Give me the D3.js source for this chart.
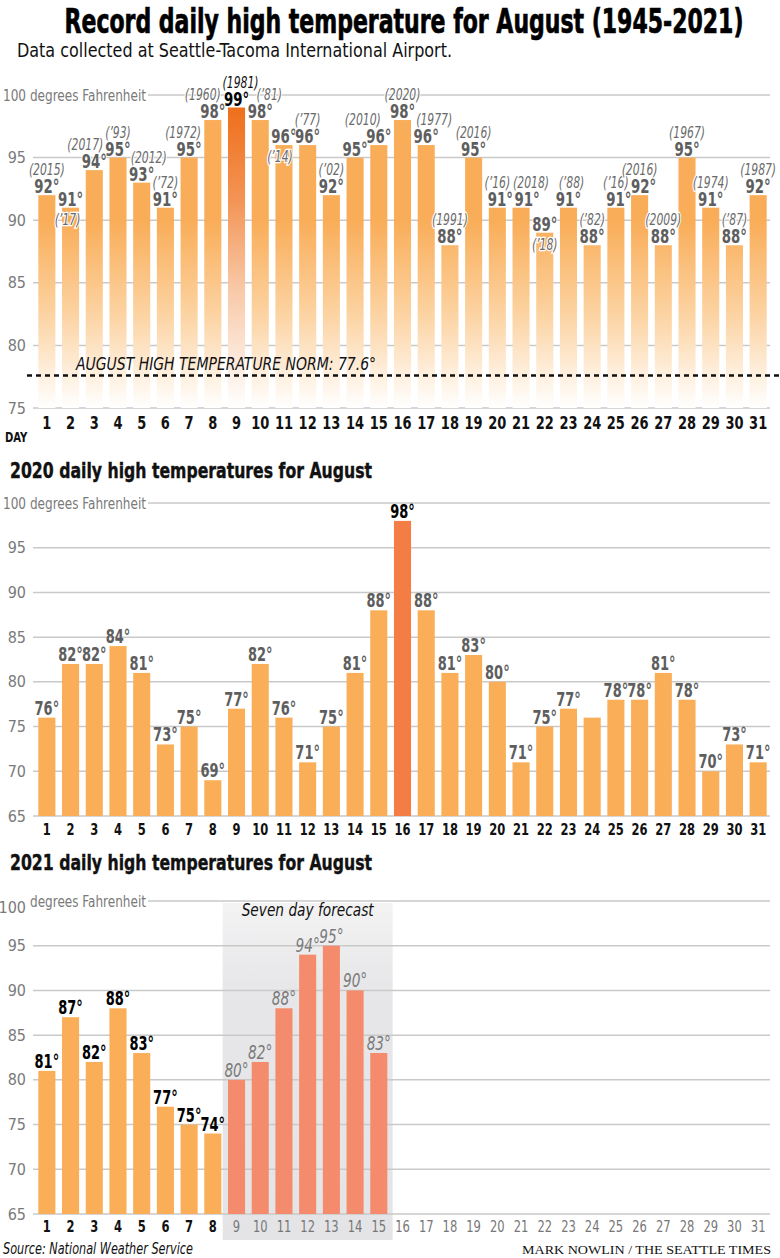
<!DOCTYPE html>
<html><head><meta charset="utf-8">
<script src="https://cdn.jsdelivr.net/npm/d3@7"></script>
<style>
html,body{margin:0;padding:0;background:#fff;}
svg{display:block;}
</style></head>
<body>
<svg id="c" width="780" height="1258"></svg>
<script>
// ---------- DATA ----------
const days = [1,2,3,4,5,6,7,8,9,10,11,12,13,14,15,16,17,18,19,20,21,22,23,24,25,26,27,28,29,30,31];
const recordHighs = [92,91,94,95,93,91,95,98,99,98,96,96,92,95,96,98,96,88,95,91,91,89,91,88,91,92,88,95,91,88,92];
const recordYears = ["(2015)","(’17)","(2017)","(’93)","(2012)","(’72)","(1972)","(1960)","(1981)","(’81)","(’14)","(’77)","(’02)","","(2010)","(2020)","(1977)","(1991)","(2016)","(’16)","(2018)","(’18)","(’88)","(’82)","(’16)","(2016)","(2009)","(1967)","(1974)","(’87)","(1987)"];
const yearBelowDays = [2, 11, 22];
const recordHighlightDay = 9;
const normTemp = 77.6;
const recordTicks = [75,80,85,90,95,100];

const highs2020 = [76,82,82,84,81,73,75,69,77,82,76,71,75,81,88,98,88,81,83,80,71,75,77,76,78,78,81,78,70,73,71];
const unlabeled2020 = [24];
const highlight2020Day = 16;
const ticks2020 = [65,70,75,80,85,90,95,100];

const actualDays2021 = [1,2,3,4,5,6,7,8];
const actual2021 = [81,87,82,88,83,77,75,74];
const forecastDays2021 = [9,10,11,12,13,14,15];
const forecast2021 = [80,82,88,94,95,90,83];
const ticks2021 = [65,70,75,80,85,90,95,100];

// label nudges (layout only, pixels) for crowded labels
const yearNudge = {2:-3, 3:-9, 5:7, 7:-6, 8:-10, 9:4, 10:9, 11:-4, 15:-16, 17:8, 21:10, 23:3};
const valueNudge = {20:3, 21:6, 25:3, 26:4};

// ---------- SETUP ----------
const NARROW = "'Liberation Sans Narrow','DejaVu Sans Condensed','Arial Narrow',sans-serif";
const svg = d3.select("#c");
const GRID = "#c9c9c9", TICKC = "#7a7a7a", LABC = "#5e5e5e";
const ORANGE = "#f9ae57";

const x = d3.scaleBand().domain(days).range([35, 770]).paddingInner(0.28).paddingOuter(0.14);
const cx = d => x(d) + x.bandwidth()/2;

function fit(sel, w){ sel.attr("textLength", w).attr("lengthAdjust","spacingAndGlyphs"); }
function squeeze(sel, k){
  sel.each(function(){
    const l = this.getComputedTextLength();
    d3.select(this).attr("textLength", l*k).attr("lengthAdjust","spacingAndGlyphs");
  });
}

// Title
svg.append("text").attr("x", 404).attr("y", 33).attr("text-anchor","middle")
  .attr("font-family", NARROW).attr("font-weight","bold").attr("font-size", 34).attr("fill","#000")
  .attr("stroke","#000").attr("stroke-width",0.7)
  .text("Record daily high temperature for August (1945-2021)").call(fit, 679);
svg.append("text").attr("x", 17).attr("y", 57)
  .attr("font-family", NARROW).attr("font-size", 19).attr("fill","#111")
  .text("Data collected at Seattle-Tacoma International Airport.").call(fit, 435);

const defs = svg.append("defs");

function axisGrid(g, y, ticks, opts){
  ticks.forEach(t => {
    const x0 = (t === 100) ? 148 : 33;
    g.append("line").attr("x1", x0).attr("x2", 770).attr("y1", y(t)).attr("y2", y(t))
      .attr("stroke", GRID).attr("stroke-width", 1.5);
    if (t === 100) {
      if (opts && opts.split) {
        g.append("text").attr("x", 26).attr("y", y(t)+6).attr("dy","0.35em").attr("text-anchor","end")
          .attr("font-family", NARROW).attr("font-size", 16).attr("fill", TICKC).text("100");
        g.append("text").attr("x", 30).attr("y", y(t)).attr("dy","0.35em")
          .attr("font-family", NARROW).attr("font-size", 16).attr("fill", TICKC).text("degrees Fahrenheit").call(fit, 116);
      } else {
        g.append("text").attr("x", 3).attr("y", y(t)).attr("dy","0.35em")
          .attr("font-family", NARROW).attr("font-size", 16).attr("fill", TICKC).text("100 degrees Fahrenheit").call(fit, 143);
      }
    } else {
      g.append("text").attr("x", 26).attr("y", y(t)).attr("dy","0.35em").attr("text-anchor","end")
        .attr("font-family", NARROW).attr("font-size", 16).attr("fill", TICKC).text(t);
    }
  });
}

// ---------- CHART 1 ----------
{
  const y = d3.scaleLinear().domain([75,100]).range([408, 95]);
  const g = svg.append("g");
  const gr = defs.append("linearGradient").attr("id","g1").attr("gradientUnits","userSpaceOnUse")
    .attr("x1",0).attr("x2",0).attr("y1", y(90)).attr("y2", y(75));
  gr.append("stop").attr("offset",0).attr("stop-color","#f9ad58");
  gr.append("stop").attr("offset",0.5).attr("stop-color","#fcd3a2");
  gr.append("stop").attr("offset",1).attr("stop-color","#ffffff");
  const gh = defs.append("linearGradient").attr("id","g1h").attr("gradientUnits","userSpaceOnUse")
    .attr("x1",0).attr("x2",0).attr("y1", y(99)).attr("y2", y(75));
  gh.append("stop").attr("offset",0).attr("stop-color","#ef6f1c");
  gh.append("stop").attr("offset",0.3).attr("stop-color","#f39353");
  gh.append("stop").attr("offset",0.6).attr("stop-color","#f8c8a6");
  gh.append("stop").attr("offset",1).attr("stop-color","#ffffff");

  axisGrid(g, y, recordTicks);

  const data = days.map((d,i) => ({day:d, v:recordHighs[i], yr:recordYears[i]}));
  g.selectAll("rect.b").data(data).join("rect").attr("class","b")
    .attr("x", d => x(d.day)).attr("width", x.bandwidth())
    .attr("y", d => y(d.v)).attr("height", d => y(75) - y(d.v))
    .attr("fill", d => d.day === recordHighlightDay ? "url(#g1h)" : "url(#g1)");

  // norm line
  g.append("line").attr("x1", 27).attr("x2", 780).attr("y1", y(normTemp)).attr("y2", y(normTemp))
    .attr("stroke","#111").attr("stroke-width", 2.5).attr("stroke-dasharray","5,4");
  g.append("text").attr("x", 76).attr("y", y(normTemp)-5)
    .attr("font-family", NARROW).attr("font-style","italic").attr("font-size", 18).attr("fill","#111")
    .text("AUGUST HIGH TEMPERATURE NORM: 77.6°").call(fit, 300);

  // year labels
  g.selectAll("text.yr").data(data.filter(d => d.yr)).join("text").attr("class","yr")
    .attr("x", d => cx(d.day) + (yearNudge[d.day] || 0))
    .attr("y", d => yearBelowDays.includes(d.day) ? y(d.v)+17 : y(d.v)-20)
    .attr("text-anchor","middle")
    .attr("font-family", NARROW).attr("font-style","italic").attr("font-size", 15)
    .attr("fill", d => d.day === recordHighlightDay ? "#111" : "#6a6a6a")
    .attr("stroke","#fff").attr("stroke-width",2.5).attr("paint-order","stroke")
    .text(d => d.yr).call(squeeze, 0.8);
  // value labels
  g.selectAll("text.v").data(data).join("text").attr("class","v")
    .attr("x", d => cx(d.day) + (valueNudge[d.day] || 0)).attr("y", d => y(d.v)-2).attr("text-anchor","middle")
    .attr("font-family", NARROW).attr("font-weight","bold").attr("font-size", 19)
    .attr("fill", d => d.day === recordHighlightDay ? "#000" : LABC)
    .attr("stroke","#fff").attr("stroke-width",2).attr("paint-order","stroke")
    .text(d => d.v + "°").call(squeeze, 0.78);

  g.selectAll("text.d").data(days).join("text").attr("class","d")
    .attr("x", d => cx(d)).attr("y", 429).attr("text-anchor","middle")
    .attr("font-family", NARROW).attr("font-weight","bold").attr("font-size", 17).attr("fill","#111")
    .text(d => d).call(squeeze, 0.85);
  g.append("text").attr("x", 5).attr("y", 442)
    .attr("font-family", NARROW).attr("font-weight","bold").attr("font-size", 14).attr("fill","#111").text("DAY").call(squeeze, 0.8);
}

// ---------- CHART 2 ----------
{
  svg.append("text").attr("x", 10).attr("y", 478)
    .attr("font-family", NARROW).attr("font-weight","bold").attr("font-size", 22).attr("fill","#111")
    .attr("stroke","#111").attr("stroke-width",0.4)
    .text("2020 daily high temperatures for August").call(fit, 362);
  const y = d3.scaleLinear().domain([65,100]).range([816, 503]);
  const g = svg.append("g");
  axisGrid(g, y, ticks2020);
  const data = days.map((d,i) => ({day:d, v:highs2020[i]}));
  g.selectAll("rect").data(data).join("rect")
    .attr("x", d => x(d.day)).attr("width", x.bandwidth())
    .attr("y", d => y(d.v)).attr("height", d => y(65) - y(d.v))
    .attr("fill", d => d.day === highlight2020Day ? "#f47d45" : ORANGE);
  g.selectAll("text.v").data(data.filter(d => !unlabeled2020.includes(d.day))).join("text").attr("class","v")
    .attr("x", d => cx(d.day)).attr("y", d => y(d.v)-3).attr("text-anchor","middle")
    .attr("font-family", NARROW).attr("font-weight","bold").attr("font-size", 19)
    .attr("fill", d => d.day === highlight2020Day ? "#000" : LABC)
    .text(d => d.v + "°").call(squeeze, 0.76);
  g.selectAll("text.d").data(days).join("text").attr("class","d")
    .attr("x", d => cx(d)).attr("y", 835).attr("text-anchor","middle")
    .attr("font-family", NARROW).attr("font-weight","bold").attr("font-size", 16).attr("fill","#111")
    .text(d => d).call(squeeze, 0.8);
}

// ---------- CHART 3 ----------
{
  svg.append("text").attr("x", 10).attr("y", 870)
    .attr("font-family", NARROW).attr("font-weight","bold").attr("font-size", 22).attr("fill","#111")
    .attr("stroke","#111").attr("stroke-width",0.4)
    .text("2021 daily high temperatures for August").call(fit, 362);
  const y = d3.scaleLinear().domain([65,100]).range([1214, 901]);
  const g = svg.append("g");
  const sg = defs.append("linearGradient").attr("id","gs").attr("x1",0).attr("x2",0).attr("y1",0).attr("y2",1);
  sg.append("stop").attr("offset",0).attr("stop-color","#f3f3f4");
  sg.append("stop").attr("offset",0.25).attr("stop-color","#e7e7e9");
  sg.append("stop").attr("offset",1).attr("stop-color","#e4e4e6");
  const fx0 = x(forecastDays2021[0]) - x.step()*x.paddingInner()/2 - 2;
  const fx1 = x(forecastDays2021[forecastDays2021.length-1]) + x.bandwidth() + x.step()*x.paddingInner()/2 + 2;
  g.append("rect").attr("x", fx0).attr("width", fx1-fx0).attr("y", 903).attr("height", 1240-903).attr("fill","url(#gs)");
  g.append("text").attr("x", (fx0+fx1)/2).attr("y", 916).attr("text-anchor","middle")
    .attr("font-family", NARROW).attr("font-style","italic").attr("font-size", 18).attr("fill","#111")
    .text("Seven day forecast").call(fit, 132);
  axisGrid(g, y, ticks2021, {split:true});

  const act = actualDays2021.map((d,i) => ({day:d, v:actual2021[i]}));
  const fc = forecastDays2021.map((d,i) => ({day:d, v:forecast2021[i]}));
  g.selectAll("rect.a").data(act).join("rect").attr("class","a")
    .attr("x", d => x(d.day)).attr("width", x.bandwidth())
    .attr("y", d => y(d.v)).attr("height", d => y(65) - y(d.v)).attr("fill", ORANGE);
  g.selectAll("rect.f").data(fc).join("rect").attr("class","f")
    .attr("x", d => x(d.day)).attr("width", x.bandwidth())
    .attr("y", d => y(d.v)).attr("height", d => y(65) - y(d.v)).attr("fill", "#f38b6c");
  g.selectAll("text.av").data(act).join("text").attr("class","av")
    .attr("x", d => cx(d.day)).attr("y", d => y(d.v)-3).attr("text-anchor","middle")
    .attr("font-family", NARROW).attr("font-weight","bold").attr("font-size", 19).attr("fill","#000")
    .text(d => d.v + "°").call(squeeze, 0.76);
  g.selectAll("text.fv").data(fc).join("text").attr("class","fv")
    .attr("x", d => cx(d.day)).attr("y", d => y(d.v)-3).attr("text-anchor","middle")
    .attr("font-family", NARROW).attr("font-style","italic").attr("font-size", 19).attr("fill","#7a7a7a")
    .text(d => d.v + "°").call(squeeze, 0.8);
  g.selectAll("text.d").data(days).join("text").attr("class","d")
    .attr("x", d => cx(d)).attr("y", 1232).attr("text-anchor","middle")
    .attr("font-family", NARROW)
    .attr("font-weight", d => actualDays2021.includes(d) ? "bold" : "normal")
    .attr("font-size", 16)
    .attr("fill", d => actualDays2021.includes(d) ? "#111" : "#777")
    .text(d => d).call(squeeze, 0.8);
}

// ---------- FOOTER ----------
svg.append("text").attr("x", 3).attr("y", 1254)
  .attr("font-family", NARROW).attr("font-style","italic").attr("font-size", 15).attr("fill","#111")
  .text("Source: National Weather Service").call(fit, 190);
svg.append("text").attr("x", 771).attr("y", 1254).attr("text-anchor","end")
  .attr("font-family", "'Liberation Serif','DejaVu Serif',serif").attr("font-size", 12).attr("fill","#111")
  .text("MARK NOWLIN / THE SEATTLE TIMES").call(fit, 249);
</script>
</body></html>
